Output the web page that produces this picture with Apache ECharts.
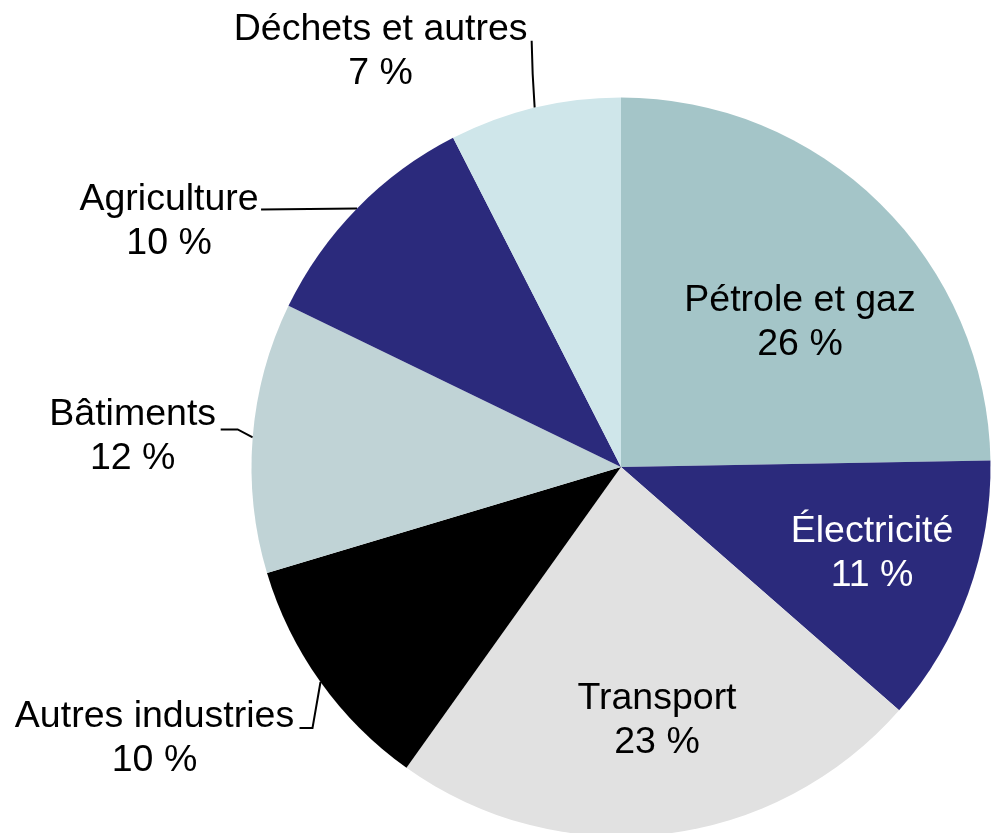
<!DOCTYPE html>
<html>
<head>
<meta charset="utf-8">
<script src="https://cdn.jsdelivr.net/npm/echarts@6/dist/echarts.min.js"></script>
<style>
  html, body { margin: 0; padding: 0; background: #fff; }
  #chart { width: 997px; height: 833px; }
</style>
</head>
<body>
<div id="chart"></div>
<script>
// secteurs, dans le sens horaire depuis midi
const sectors = ['Pétrole et gaz', 'Électricité', 'Transport', 'Autres industries', 'Bâtiments', 'Agriculture', 'Déchets et autres']
const shares = [24.7, 11.7, 23.4, 10.5, 11.8, 10.3, 7.5]
// pourcentages affichés
const shareLabels = ['26 %', '11 %', '23 %', '10 %', '12 %', '10 %', '7 %']

const colors = ['#a4c5c8', '#2b2a7c', '#e1e1e1', '#000000', '#c0d3d6', '#2b2a7c', '#cfe6ea']
const textColors = ['#000', '#fff', '#000', '#000', '#000', '#000', '#000']

const CX = 621
const CY = 467
const R = 369.5

// inside labels: offset of the text centre from the pie centre
// outside labels: offset from the rim point at the slice middle, plus the leader line bends
const labelPlacement = [
  { inside: true, text: [179, -144] },
  { inside: true, text: [251, 87] },
  { inside: true, text: [36, 254] },
  { inside: false, text: [-166, 57], line: [[-8, 46], [-21, 46]] },
  { inside: false, text: [-120, -1], line: [[-15, -8], [-32, -8]] },
  { inside: false, text: [-188, 13], line: [[0, 0], [-96, 1]] },
  { inside: false, text: [-154, -56], line: [[-2, -34], [-3, -67]] }
]

const total = shares.reduce((s, v) => s + v, 0)
const rimPoint = (i) => {
  const before = shares.slice(0, i).reduce((s, v) => s + v, 0)
  const a = (before + shares[i] / 2) / total * Math.PI * 2
  return [CX + R * Math.sin(a), CY - R * Math.cos(a)]
}

const chart = echarts.init(document.getElementById('chart'))

chart.setOption({
  animation: false,
  series: [
    {
      type: 'pie',
      center: [CX, CY],
      radius: R,
      startAngle: 90,
      clockwise: true,
      avoidLabelOverlap: false,
      itemStyle: { borderWidth: 0 },
      emphasis: { disabled: true },
      label: {
        fontFamily: '"Liberation Sans", Arial, sans-serif',
        fontSize: 37.5,
        lineHeight: 44,
        color: '#000',
        formatter: (p) => p.name + '\n' + shareLabels[p.dataIndex]
      },
      labelLine: {
        lineStyle: { color: '#000', width: 2 }
      },
      labelLayout: (params) => {
        const i = params.dataIndex
        const pl = labelPlacement[i]
        if (pl.inside) {
          return {
            x: CX + pl.text[0],
            y: CY + pl.text[1],
            align: 'center',
            verticalAlign: 'middle'
          }
        }
        const rim = rimPoint(i)
        return {
          x: rim[0] + pl.text[0],
          y: rim[1] + pl.text[1],
          align: 'center',
          verticalAlign: 'middle',
          labelLinePoints: [
            rim,
            [rim[0] + pl.line[0][0], rim[1] + pl.line[0][1]],
            [rim[0] + pl.line[1][0], rim[1] + pl.line[1][1]]
          ]
        }
      },
      data: sectors.map((name, i) => ({
        name,
        value: shares[i],
        itemStyle: { color: colors[i] },
        label: {
          position: labelPlacement[i].inside ? 'inside' : 'outside',
          color: textColors[i]
        },
        labelLine: { show: !labelPlacement[i].inside }
      }))
    }
  ]
})
</script>
</body>
</html>
